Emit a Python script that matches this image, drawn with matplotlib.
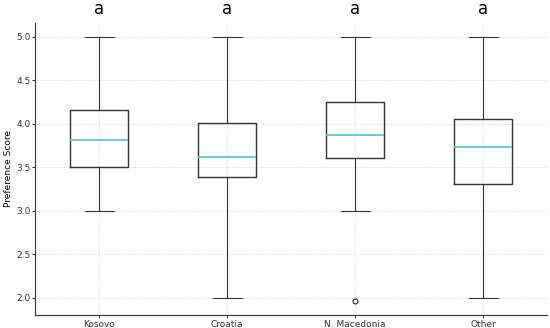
import matplotlib.pyplot as plt

countries = ["Kosovo", "Croatia", "N. Macedonia", "Other"]
whislo = [3.0, 2.0, 3.0, 2.0]
q1 = [3.50, 3.39, 3.61, 3.31]
med = [3.81, 3.62, 3.87, 3.73]
q3 = [4.16, 4.01, 4.25, 4.06]
whishi = [5.0, 5.0, 5.0, 5.0]
fliers = [[], [], [1.96], []]
letters = ["a", "a", "a", "a"]

stats = []
for i, name in enumerate(countries):
    stats.append({"label": name, "whislo": whislo[i], "q1": q1[i], "med": med[i],
                  "q3": q3[i], "whishi": whishi[i], "fliers": fliers[i]})

fig, ax = plt.subplots(figsize=(5.5, 3.28), dpi=100)
fig.subplots_adjust(left=0.064, right=0.995, bottom=0.04, top=0.93)

ax.bxp(stats, widths=0.45,
       boxprops=dict(color="#333333", linewidth=1.0),
       whiskerprops=dict(color="#333333", linewidth=0.8),
       capprops=dict(color="#333333", linewidth=0.8),
       medianprops=dict(color="#4fc3d9", linewidth=1.2),
       flierprops=dict(marker="o", markersize=3.5, markerfacecolor="none",
                       markeredgecolor="#222222", markeredgewidth=0.8))

for i, t in enumerate(letters):
    ax.text(i + 1, 5.32, t, ha="center", va="center", fontsize=12,
            clip_on=False)

ax.set_ylim(1.80, 5.16)
ax.set_xlim(0.5, 4.5)
ax.set_ylabel("Preference Score", fontsize=6.5, labelpad=2)
ax.tick_params(labelsize=6.5, length=2, pad=1.5, colors="#333333")
ax.grid(True, linestyle=":", linewidth=0.6, color="#cccccc")
ax.set_axisbelow(True)
for s in ["top", "right"]:
    ax.spines[s].set_visible(False)
ax.spines["left"].set_color("#333333")
ax.spines["bottom"].set_color("#333333")

fig.savefig("out.png")
